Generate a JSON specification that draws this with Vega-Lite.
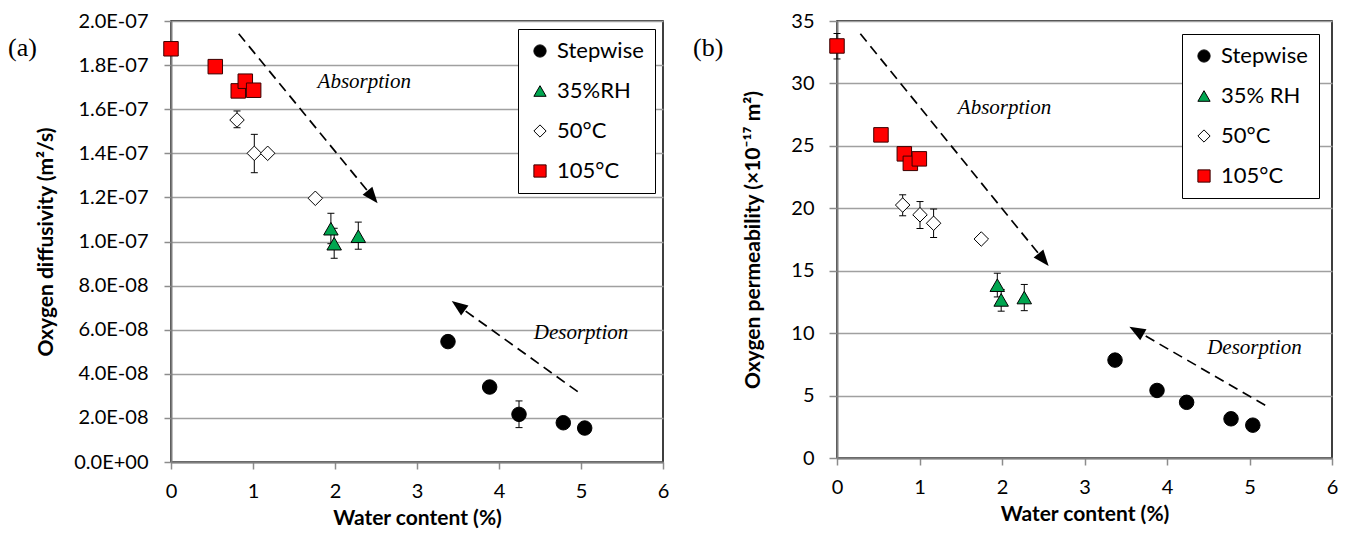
{
  "$schema": "https://vega.github.io/schema/vega-lite/v6.json",
  "background": "white",
  "padding": {"left": 7, "top": 10, "right": 4, "bottom": 2},
  "spacing": 22,
  "resolve": {
    "scale": {"fill": "independent", "shape": "independent", "stroke": "independent"},
    "legend": {"fill": "independent", "shape": "independent", "stroke": "independent"}
  },
  "datasets": {
    "diff": [
      {"series": "105°C", "x": 0, "y": 1.874e-7},
      {"series": "105°C", "x": 0.54, "y": 1.793e-7},
      {"series": "105°C", "x": 0.82, "y": 1.683e-7},
      {"series": "105°C", "x": 0.906, "y": 1.727e-7},
      {"series": "105°C", "x": 1.008, "y": 1.686e-7},
      {"series": "50°C", "x": 0.805, "y": 1.551e-7, "lo": 1.516e-7, "hi": 1.592e-7},
      {"series": "50°C", "x": 1.016, "y": 1.4e-7, "lo": 1.312e-7, "hi": 1.486e-7},
      {"series": "50°C", "x": 1.179, "y": 1.4e-7},
      {"series": "50°C", "x": 1.76, "y": 1.196e-7},
      {"series": "35%RH", "x": 1.95, "y": 1.058e-7, "lo": 0.99e-7, "hi": 1.128e-7},
      {"series": "35%RH", "x": 1.99, "y": 0.99e-7, "lo": 0.924e-7, "hi": 1.06e-7},
      {"series": "35%RH", "x": 2.284, "y": 1.024e-7, "lo": 0.965e-7, "hi": 1.088e-7},
      {"series": "Stepwise", "x": 3.378, "y": 5.46e-8},
      {"series": "Stepwise", "x": 3.886, "y": 3.4e-8},
      {"series": "Stepwise", "x": 4.244, "y": 2.16e-8, "lo": 1.56e-8, "hi": 2.77e-8},
      {"series": "Stepwise", "x": 4.784, "y": 1.78e-8},
      {"series": "Stepwise", "x": 5.045, "y": 1.54e-8}
    ],
    "perm": [
      {"series": "105°C", "x": 0, "y": 33.0, "lo": 31.96, "hi": 34.0},
      {"series": "105°C", "x": 0.533, "y": 25.88},
      {"series": "105°C", "x": 0.816, "y": 24.36},
      {"series": "105°C", "x": 0.889, "y": 23.6},
      {"series": "105°C", "x": 0.998, "y": 23.96},
      {"series": "50°C", "x": 0.796, "y": 20.26, "lo": 19.4, "hi": 21.08},
      {"series": "50°C", "x": 1.006, "y": 19.48, "lo": 18.38, "hi": 20.54},
      {"series": "50°C", "x": 1.171, "y": 18.8, "lo": 17.66, "hi": 19.94},
      {"series": "50°C", "x": 1.749, "y": 17.54},
      {"series": "35% RH", "x": 1.943, "y": 13.84, "lo": 12.9, "hi": 14.8},
      {"series": "35% RH", "x": 1.99, "y": 12.66, "lo": 11.76, "hi": 13.5},
      {"series": "35% RH", "x": 2.27, "y": 12.85, "lo": 11.8, "hi": 13.9},
      {"series": "Stepwise", "x": 3.37, "y": 7.84},
      {"series": "Stepwise", "x": 3.879, "y": 5.41},
      {"series": "Stepwise", "x": 4.238, "y": 4.46},
      {"series": "Stepwise", "x": 4.776, "y": 3.14},
      {"series": "Stepwise", "x": 5.04, "y": 2.63}
    ]
  },
  "config": {
    "font": "Lato",
    "view": {"stroke": "black", "strokeWidth": 1.5},
    "scale": {"continuousPadding": 0},
    "axis": {
      "labelFont": "Lato", "labelFontSize": 20, "labelColor": "black", "labelFlush": false,
      "titleFont": "Lato", "titleFontSize": 21, "titleFontWeight": "bold", "titleColor": "black",
      "domainColor": "#7f7f7f", "domainWidth": 2,
      "tickColor": "#8c8c8c", "tickWidth": 1.5,
      "gridColor": "#a0a0a0", "gridWidth": 1.5
    },
    "axisX": {"grid": false, "tickSize": 7, "labelPadding": 12, "titlePadding": 6, "labelFlush": false},
    "axisY": {"grid": true, "tickSize": 7, "labelPadding": 16},
    "legend": {
      "labelFont": "Lato", "labelFontSize": 22, "labelColor": "black",
      "strokeColor": "black", "fillColor": "white",
      "padding": 11, "rowPadding": 18,
      "symbolStrokeWidth": 1, "symbolSize": 150,
      "labelOffset": 6
    }
  },
  "hconcat": [
    {
      "width": 492,
      "height": 441,
      "data": {"name": "diff"},
      "layer": [
        {
          "transform": [{"filter": "isValid(datum.lo)"}],
          "mark": {"type": "rule", "color": "black", "strokeWidth": 1},
          "encoding": {
            "x": {"field": "x", "type": "quantitative", "title": "Water content (%)"},
            "y": {"field": "lo", "type": "quantitative", "title": "Oxygen diffusivity (m²/s)"},
            "y2": {"field": "hi"}
          }
        },
        {
          "transform": [{"filter": "isValid(datum.lo)"}],
          "mark": {"type": "tick", "orient": "horizontal", "size": 7, "thickness": 1, "color": "black", "opacity": 1},
          "encoding": {
            "x": {"field": "x", "type": "quantitative", "title": "Water content (%)"},
            "y": {"field": "lo", "type": "quantitative", "title": "Oxygen diffusivity (m²/s)"}
          }
        },
        {
          "transform": [{"filter": "isValid(datum.lo)"}],
          "mark": {"type": "tick", "orient": "horizontal", "size": 7, "thickness": 1, "color": "black", "opacity": 1},
          "encoding": {
            "x": {"field": "x", "type": "quantitative", "title": "Water content (%)"},
            "y": {"field": "hi", "type": "quantitative", "title": "Oxygen diffusivity (m²/s)"}
          }
        },
        {
          "mark": {"type": "point", "filled": true, "strokeWidth": 1, "opacity": 1, "size": 210},
          "encoding": {
            "x": {
              "field": "x", "type": "quantitative", "title": "Water content (%)",
              "scale": {"domain": [0, 6], "nice": false, "padding": 0},
              "axis": {"values": [0, 1, 2, 3, 4, 5, 6], "format": "d", "labelFlush": false}
            },
            "y": {
              "field": "y", "type": "quantitative", "title": "Oxygen diffusivity (m²/s)",
              "scale": {"domain": [0, 2e-7], "nice": false, "padding": 0},
              "axis": {
                "values": [0, 2e-8, 4e-8, 6e-8, 8e-8, 1e-7, 1.2e-7, 1.4e-7, 1.6e-7, 1.8e-7, 2e-7],
                "labelExpr": "replace(replace(format(datum.value, '.1e'), 'e-', 'E-0'), 'e+', 'E+0')",
                "titlePadding": 17
              }
            },
            "shape": {
              "field": "series", "type": "nominal",
              "scale": {"domain": ["Stepwise", "35%RH", "50°C", "105°C"], "range": ["circle", "triangle-up", "diamond", "square"]},
              "legend": {"title": null, "orient": "top-right", "offset": 8}
            },
            "fill": {
              "field": "series", "type": "nominal",
              "scale": {"domain": ["Stepwise", "35%RH", "50°C", "105°C"], "range": ["black", "#00a650", "white", "#ff0000"]},
              "legend": {"title": null, "orient": "top-right", "offset": 8}
            },
            "stroke": {
              "field": "series", "type": "nominal",
              "scale": {"domain": ["Stepwise", "35%RH", "50°C", "105°C"], "range": ["black", "black", "black", "#3a0000"]},
              "legend": {"title": null, "orient": "top-right", "offset": 8}
            }
          }
        },
        {
          "data": {"values": [{}]},
          "mark": {"type": "rule", "color": "black", "strokeWidth": 1.7, "strokeDash": [10, 6]},
          "encoding": {
            "x": {"datum": 0.826, "type": "quantitative"},
            "y": {"datum": 1.942e-7, "type": "quantitative"},
            "x2": {"datum": 2.451},
            "y2": {"datum": 1.205e-7}
          }
        },
        {
          "data": {"values": [{}]},
          "mark": {"type": "point", "shape": "M0,-1L-0.7,0.8L0.7,0.8Z", "filled": true, "color": "black", "size": 320, "angle": 141, "opacity": 1},
          "encoding": {
            "x": {"datum": 2.451, "type": "quantitative"},
            "y": {"datum": 1.205e-7, "type": "quantitative"}
          }
        },
        {
          "data": {"values": [{}]},
          "mark": {"type": "rule", "color": "black", "strokeWidth": 1.7, "strokeDash": [10, 6]},
          "encoding": {
            "x": {"datum": 4.96, "type": "quantitative"},
            "y": {"datum": 0.319e-7, "type": "quantitative"},
            "x2": {"datum": 3.512},
            "y2": {"datum": 0.706e-7}
          }
        },
        {
          "data": {"values": [{}]},
          "mark": {"type": "point", "shape": "M0,-1L-0.7,0.8L0.7,0.8Z", "filled": true, "color": "black", "size": 320, "angle": 306, "opacity": 1},
          "encoding": {
            "x": {"datum": 3.512, "type": "quantitative"},
            "y": {"datum": 0.706e-7, "type": "quantitative"}
          }
        },
        {
          "data": {"values": [{}]},
          "mark": {"type": "text", "font": "Liberation Serif", "fontStyle": "italic", "fontSize": 21, "align": "center", "baseline": "middle", "color": "black"},
          "encoding": {
            "x": {"datum": 2.357, "type": "quantitative"},
            "y": {"datum": 1.723e-7, "type": "quantitative"},
            "text": {"value": "Absorption"}
          }
        },
        {
          "data": {"values": [{}]},
          "mark": {"type": "text", "font": "Liberation Serif", "fontStyle": "italic", "fontSize": 21, "align": "center", "baseline": "middle", "color": "black"},
          "encoding": {
            "x": {"datum": 5.0, "type": "quantitative"},
            "y": {"datum": 0.586e-7, "type": "quantitative"},
            "text": {"value": "Desorption"}
          }
        },
        {
          "data": {"values": [{}]},
          "mark": {"type": "text", "font": "Liberation Serif", "fontSize": 26, "align": "left", "baseline": "middle", "color": "black"},
          "encoding": {
            "x": {"datum": -1.988, "type": "quantitative"},
            "y": {"datum": 1.878e-7, "type": "quantitative"},
            "text": {"value": "(a)"}
          }
        }
      ]
    },
    {
      "width": 495,
      "height": 437,
      "data": {"name": "perm"},
      "layer": [
        {
          "transform": [{"filter": "isValid(datum.lo)"}],
          "mark": {"type": "rule", "color": "black", "strokeWidth": 1},
          "encoding": {
            "x": {"field": "x", "type": "quantitative", "title": "Water content (%)"},
            "y": {"field": "lo", "type": "quantitative", "title": "Oxygen permeability (×10⁻¹⁷ m²)"},
            "y2": {"field": "hi"}
          }
        },
        {
          "transform": [{"filter": "isValid(datum.lo)"}],
          "mark": {"type": "tick", "orient": "horizontal", "size": 7, "thickness": 1, "color": "black", "opacity": 1},
          "encoding": {
            "x": {"field": "x", "type": "quantitative", "title": "Water content (%)"},
            "y": {"field": "lo", "type": "quantitative", "title": "Oxygen permeability (×10⁻¹⁷ m²)"}
          }
        },
        {
          "transform": [{"filter": "isValid(datum.lo)"}],
          "mark": {"type": "tick", "orient": "horizontal", "size": 7, "thickness": 1, "color": "black", "opacity": 1},
          "encoding": {
            "x": {"field": "x", "type": "quantitative", "title": "Water content (%)"},
            "y": {"field": "hi", "type": "quantitative", "title": "Oxygen permeability (×10⁻¹⁷ m²)"}
          }
        },
        {
          "mark": {"type": "point", "filled": true, "strokeWidth": 1, "opacity": 1, "size": 210},
          "encoding": {
            "x": {
              "field": "x", "type": "quantitative", "title": "Water content (%)",
              "scale": {"domain": [0, 6], "nice": false, "padding": 0},
              "axis": {"values": [0, 1, 2, 3, 4, 5, 6], "format": "d", "labelFlush": false}
            },
            "y": {
              "field": "y", "type": "quantitative", "title": "Oxygen permeability (×10⁻¹⁷ m²)",
              "scale": {"domain": [0, 35], "nice": false, "padding": 0},
              "axis": {"values": [0, 5, 10, 15, 20, 25, 30, 35], "tickSize": 8, "labelPadding": 15, "titlePadding": 27}
            },
            "shape": {
              "field": "series", "type": "nominal",
              "scale": {"domain": ["Stepwise", "35% RH", "50°C", "105°C"], "range": ["circle", "triangle-up", "diamond", "square"]},
              "legend": {"title": null, "orient": "top-right", "offset": 13}
            },
            "fill": {
              "field": "series", "type": "nominal",
              "scale": {"domain": ["Stepwise", "35% RH", "50°C", "105°C"], "range": ["black", "#00a650", "white", "#ff0000"]},
              "legend": {"title": null, "orient": "top-right", "offset": 13}
            },
            "stroke": {
              "field": "series", "type": "nominal",
              "scale": {"domain": ["Stepwise", "35% RH", "50°C", "105°C"], "range": ["black", "black", "black", "#3a0000"]},
              "legend": {"title": null, "orient": "top-right", "offset": 13}
            }
          }
        },
        {
          "data": {"values": [{}]},
          "mark": {"type": "rule", "color": "black", "strokeWidth": 1.7, "strokeDash": [10, 6]},
          "encoding": {
            "x": {"datum": 0.283, "type": "quantitative"},
            "y": {"datum": 33.98, "type": "quantitative"},
            "x2": {"datum": 2.497},
            "y2": {"datum": 15.93}
          }
        },
        {
          "data": {"values": [{}]},
          "mark": {"type": "point", "shape": "M0,-1L-0.7,0.8L0.7,0.8Z", "filled": true, "color": "black", "size": 320, "angle": 141, "opacity": 1},
          "encoding": {
            "x": {"datum": 2.497, "type": "quantitative"},
            "y": {"datum": 15.93, "type": "quantitative"}
          }
        },
        {
          "data": {"values": [{}]},
          "mark": {"type": "rule", "color": "black", "strokeWidth": 1.7, "strokeDash": [10, 6]},
          "encoding": {
            "x": {"datum": 5.19, "type": "quantitative"},
            "y": {"datum": 4.23, "type": "quantitative"},
            "x2": {"datum": 3.638},
            "y2": {"datum": 10.16}
          }
        },
        {
          "data": {"values": [{}]},
          "mark": {"type": "point", "shape": "M0,-1L-0.7,0.8L0.7,0.8Z", "filled": true, "color": "black", "size": 320, "angle": 300, "opacity": 1},
          "encoding": {
            "x": {"datum": 3.638, "type": "quantitative"},
            "y": {"datum": 10.16, "type": "quantitative"}
          }
        },
        {
          "data": {"values": [{}]},
          "mark": {"type": "text", "font": "Liberation Serif", "fontStyle": "italic", "fontSize": 21, "align": "center", "baseline": "middle", "color": "black"},
          "encoding": {
            "x": {"datum": 2.03, "type": "quantitative"},
            "y": {"datum": 28.06, "type": "quantitative"},
            "text": {"value": "Absorption"}
          }
        },
        {
          "data": {"values": [{}]},
          "mark": {"type": "text", "font": "Liberation Serif", "fontStyle": "italic", "fontSize": 21, "align": "center", "baseline": "middle", "color": "black"},
          "encoding": {
            "x": {"datum": 5.06, "type": "quantitative"},
            "y": {"datum": 8.81, "type": "quantitative"},
            "text": {"value": "Desorption"}
          }
        },
        {
          "data": {"values": [{}]},
          "mark": {"type": "text", "font": "Liberation Serif", "fontSize": 26, "align": "left", "baseline": "middle", "color": "black"},
          "encoding": {
            "x": {"datum": -1.745, "type": "quantitative"},
            "y": {"datum": 32.85, "type": "quantitative"},
            "text": {"value": "(b)"}
          }
        }
      ]
    }
  ]
}
